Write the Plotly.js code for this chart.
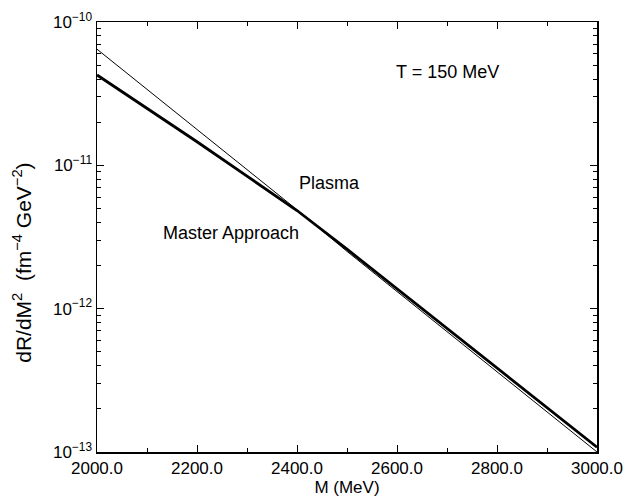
<!DOCTYPE html>
<html>
<head>
<meta charset="utf-8">
<script src="https://cdn.plot.ly/plotly-3.0.1.min.js"></script>
<style>html,body{margin:0;padding:0;background:#fff;}#chart{width:642px;height:502px;}</style>
</head>
<body>
<div id="chart"></div>
<script>
const massMeV = [2000, 2100, 2200, 2300, 2400, 2500, 2600, 2700, 2800, 2900, 3000];
const plasmaRate = [6.46e-11, 3.39e-11, 1.78e-11, 9.3e-12, 4.9e-12, 2.51e-12, 1.32e-12, 6.9e-13, 3.63e-13, 1.9e-13, 1.0e-13];
const masterRate = [4.27e-11, 2.51e-11, 1.46e-11, 8.41e-12, 4.84e-12, 2.60e-12, 1.38e-12, 7.33e-13, 3.89e-13, 2.04e-13, 1.08e-13];
const yTickVals = [1e-13, 1e-12, 1e-11, 1e-10];
const yTickText = ['10<sup>\u221213</sup>', '10<sup>\u221212</sup>', '10<sup>\u221211</sup>', '10<sup>\u221210</sup>'];
const xTickVals = [2000, 2200, 2400, 2600, 2800, 3000];

const yMinorVals = [];
for (const d of [1e-13, 1e-12, 1e-11]) for (let k = 2; k <= 9; k++) yMinorVals.push(k * d);

const font = {family: 'Liberation Sans, Arial, sans-serif', color: '#000'};
const f = s => Object.assign({size: s}, font);

const traces = [
  {x: massMeV, y: plasmaRate, mode: 'lines', line: {color: '#000', width: 1}, name: 'Plasma', showlegend: false},
  {x: massMeV, y: masterRate, mode: 'lines', line: {color: '#000', width: 2.8}, name: 'Master Approach', showlegend: false}
];

const layout = {
  width: 642, height: 502,
  margin: {l: 97, r: 45, t: 22, b: 50},
  paper_bgcolor: '#fff', plot_bgcolor: '#fff',
  font: f(17),
  xaxis: {
    range: [2000, 3000],
    tickvals: xTickVals, tickformat: '.1f',
    ticks: 'inside', ticklen: 7, tickwidth: 1, tickcolor: '#000',
    minor: {ticks: 'inside', ticklen: 4, dtick: 100, tickcolor: '#000'},
    showline: true, linecolor: '#000', linewidth: 1.5, mirror: 'ticks',
    showgrid: false, zeroline: false,
    tickfont: f(17),
    title: {text: 'M (MeV)', font: f(17), standoff: 2}
  },
  yaxis: {
    type: 'log', range: [-13, -10],
    tickvals: yTickVals, ticktext: yTickText,
    ticks: 'inside', ticklen: 7, tickwidth: 1, tickcolor: '#000',
    minor: {ticks: 'inside', ticklen: 4, tickcolor: '#000', tickvals: yMinorVals},
    showline: true, linecolor: '#000', linewidth: 1.5, mirror: 'ticks',
    showgrid: false, zeroline: false,
    tickfont: f(17)
  },
  annotations: [
    {xref: 'paper', yref: 'paper', x: -0.15, y: 0.44, xanchor: 'center', yanchor: 'middle', textangle: -90,
     text: 'dR/dM<sup>2</sup>  (fm<sup>\u22124</sup> GeV<sup>\u22122</sup>)', showarrow: false, font: f(21)},
    {x: 2700, y: -10.35, xref: 'x', yref: 'y', text: 'T = 150 MeV', showarrow: false, font: f(18)},
    {x: 2464, y: -11.12, xref: 'x', yref: 'y', text: 'Plasma', showarrow: false, font: f(18)},
    {x: 2268, y: -11.47, xref: 'x', yref: 'y', text: 'Master Approach', showarrow: false, font: f(18)}
  ]
};

Plotly.newPlot('chart', traces, layout, {displayModeBar: false, staticPlot: true});
</script>
</body>
</html>
